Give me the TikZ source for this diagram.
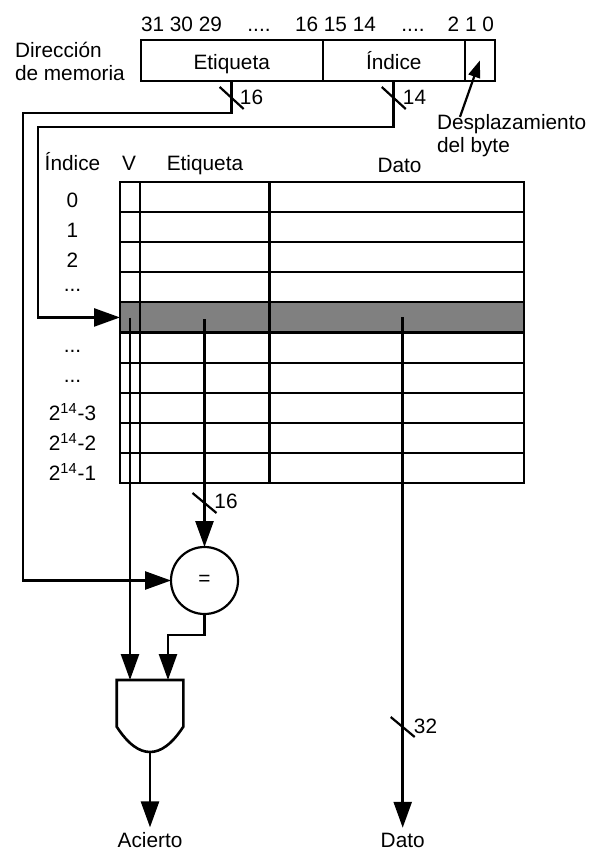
\documentclass[tikz,border=0pt]{standalone}
\usepackage{fontspec}
\setmainfont{Liberation Sans}
\usetikzlibrary{arrows.meta}
\newcommand{\rowdots}{...}

\begin{document}
\begin{tikzpicture}[x=0.5pt, y=-0.5pt,
        every node/.style={font=\fontsize{10.4}{11.4}\selectfont, inner sep=0pt, outer sep=0pt},
        field/.style={draw, line width=1.1pt, minimum height=20.5pt, text height=8.6pt, text depth=0pt},
        row/.style={draw, line width=1.1pt, minimum width=202pt, minimum height=15.05pt},
        idx/.style={anchor=base},
        wire/.style={line width=1.3pt},
        arrow/.style={wire, -{Triangle[length=13pt, width=9pt]}},
        ptr/.style={line width=1.1pt, -{Triangle[length=8.5pt, width=6pt]}},
        slash/.style={line width=1.1pt},
        outlbl/.style={inner sep=2.5pt}
    ]
    \useasboundingbox (0,0) rectangle (593,855);

    % Memory address
    \node[anchor=west, align=left] (dirlbl) at (15,61.5) {Dirección\\de memoria};
    \node[field, minimum width=91pt] (tagf) at (231.75,60.5) {Etiqueta};
    \node[field, minimum width=71pt] (idxf) at (393.75,60.5) {Índice};
    \node[field, minimum width=15.15pt] (offf) at (479.85,60.5) {};
    \node[anchor=base west] (b31) at (141,31.7) {31 30 29};
    \node[idx] (bdots1) at (259,31.7) {....};
    \node[idx] (b16) at (335.5,31.7) {16 15 14};
    \node[idx] (bdots2) at (413,31.7) {....};
    \node[anchor=base east] (b2) at (494,31.7) {2 1 0};
    \node[anchor=west, align=left] (offlbl) at (437,136) {Desplazamiento\\del byte};
    \draw[ptr] ([xshift=11.5pt, yshift=-1pt]offlbl.north west) -- (offf.center);

    % Cache table
    \node[idx] (hidx) at (72.5,171) {Índice};
    \node[idx] (hv) at (129,171) {V};
    \node[idx] (htag) at (205,171) {Etiqueta};
    \node[idx] (hdat) at (399.5,172.5) {Dato};
    \foreach \i in {1,2,3,4,6,7,8,9,10}
        \node[row] (r\i) at (322,{182+30.1*(\i-0.5)}) {};
    \node[row, fill=gray] (r5) at (322,{182+30.1*4.5}) {};
    \draw[line width=1.1pt] ([xshift=10pt]r1.north west) -- ([xshift=10pt]r10.south west);
    \draw[line width=1.1pt] ([xshift=74.75pt]r1.north west) -- ([xshift=74.75pt]r10.south west);

    \foreach \i/\t/\dy in {1/0/10.4, 2/1/10.4, 3/2/10.4, 4/\rowdots/4.6, 6/\rowdots/5, 7/\rowdots/5,
            8/2\textsuperscript{14}-3/12.9, 9/2\textsuperscript{14}-2/12.9, 10/2\textsuperscript{14}-1/12.9}
        \node[idx] (l\i) at (72.5,{182+30.1*(\i-0.5)+\dy}) {\t};

    \coordinate (vtap) at (130,317.5);
    \coordinate (ttap) at (204.5,319);
    \coordinate (dtap) at (402.7,317);

    % Compare and gate
    \node[draw, circle, line width=1.1pt, minimum size=33.5pt] (cmp) at (204.5,580.5) {=};
    \coordinate (ina) at (130,680);
    \coordinate (inb) at (168,680);
    \coordinate (andout) at (150,752);
    \draw[wire] (116.7,680) -- (116.7,726.7) .. controls (128,744) and (139,752) .. (andout)
        .. controls (161,752) and (172,744) .. (183.3,726.7) -- (183.3,680) -- cycle;

    \node[outlbl] (hit) at (150,840) {Acierto};
    \node[outlbl] (dout) at (402.7,840) {Dato};

    % Connections
    \draw[arrow] (tagf.south) |- (23,113) |- (cmp.west);
    \draw[arrow] (idxf.south) |- (38,127) |- (r5.west);
    \draw[arrow] (vtap) -- (ina);
    \draw[arrow] (ttap) -- (cmp.north);
    \draw[arrow] (cmp.south) -- ++(0,21) -| (inb);
    \draw[arrow] (andout) -- (hit.north);
    \draw[arrow] (dtap) -- (dout.north);

    % Bus widths
    \draw[slash] (231.7,98) ++(-12,-11) -- ++(24,22);
    \node (w16a) at (251.5,97.5) {16};
    \draw[slash] (393.75,98) ++(-12,-11) -- ++(24,22);
    \node (w14) at (414.5,97.5) {14};
    \draw[slash] (204.5,503) ++(-12,-10) -- ++(24,20);
    \node (w16b) at (226,501.7) {16};
    \draw[slash] (402.7,727) ++(-12,-10) -- ++(24,20);
    \node (w32) at (425.5,726.7) {32};
\end{tikzpicture}
\end{document}
